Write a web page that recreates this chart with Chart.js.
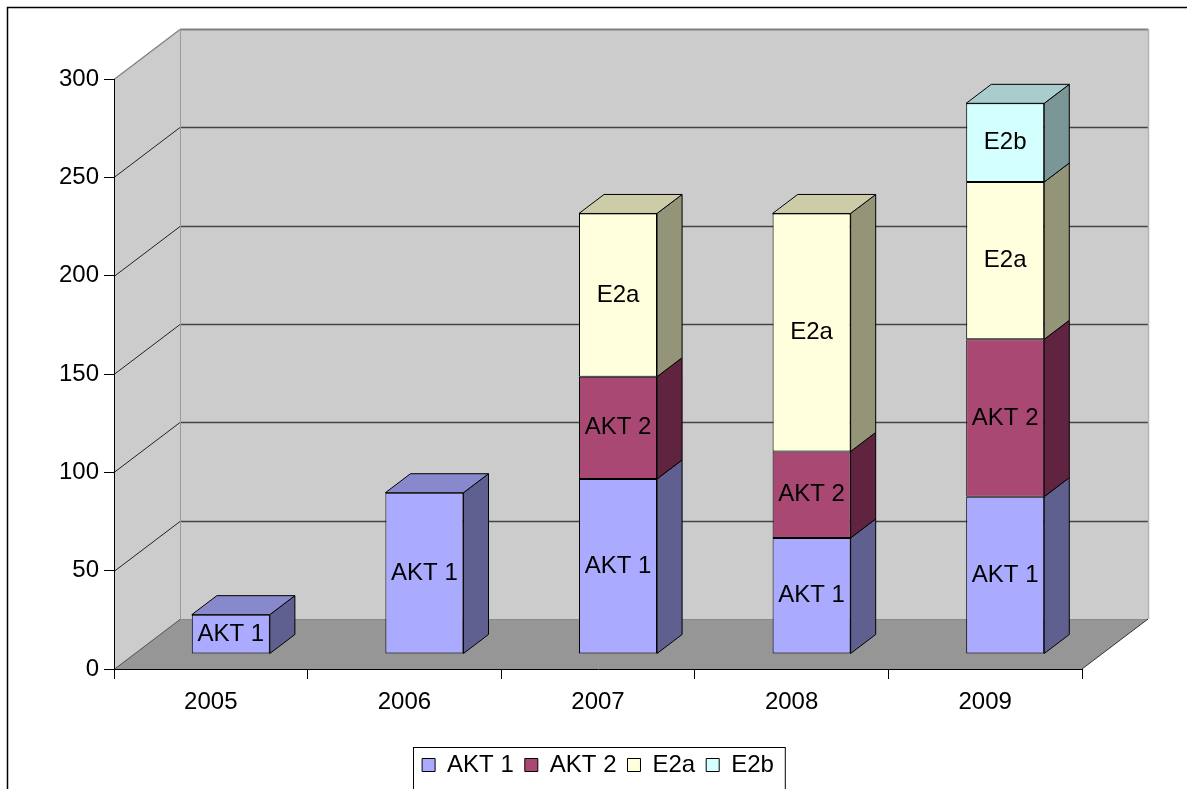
<!DOCTYPE html>
<html><head><meta charset="utf-8">
<script src="https://cdn.jsdelivr.net/npm/chart.js@4.4.1/dist/chart.umd.min.js"></script>
<style>html,body{margin:0;padding:0;background:#fff;overflow:hidden}canvas{display:block}</style>
</head><body>
<canvas id="c" width="1187" height="789"></canvas>
<script>
// ---- data ----
const categories = ['2005', '2006', '2007', '2008', '2009'];
const seriesNames = ['AKT 1', 'AKT 2', 'E2a', 'E2b'];
const akt1 = [20, 82, 89, 59, 80];
const akt2 = [null, null, 52, 44, 80];
const e2a = [null, null, 83, 121, 80];
const e2b = [null, null, null, null, 40];
const yTicks = [0, 50, 100, 150, 200, 250, 300];

// ---- styles ----
const frontColors = ['#aaaaff', '#a94873', '#ffffdd', '#d4ffff'];
const sideColors = ['#606090', '#602440', '#949478', '#7a9696'];
const topColors = ['#8888cc', '#88385a', '#cccca8', '#a9cccc'];
const GEO = {dx: 66, dy: 50, front: 0.3, depth: 0.38};
const FONT = "'Liberation Sans', Arial, sans-serif";

Chart.defaults.font.family = FONT;
Chart.defaults.font.size = 24;
Chart.defaults.color = '#000';

function poly(ctx, pts) {
  ctx.beginPath();
  ctx.moveTo(pts[0][0], pts[0][1]);
  for (let i = 1; i < pts.length; i++) ctx.lineTo(pts[i][0], pts[i][1]);
  ctx.closePath();
}
function line(ctx, x1, y1, x2, y2, color, w) {
  ctx.beginPath(); ctx.moveTo(x1, y1); ctx.lineTo(x2, y2);
  ctx.strokeStyle = color; ctx.lineWidth = w || 1; ctx.stroke();
}

const plugin3d = {
  id: 'threeD',
  beforeDraw(chart) {
    const {ctx, chartArea: a, scales: {y}} = chart;
    ctx.save();
    ctx.fillStyle = '#fff';
    ctx.fillRect(0, 0, chart.width, chart.height);
    ctx.strokeStyle = '#000'; ctx.lineWidth = 1.5;
    ctx.strokeRect(7.5, 7.5, chart.width + 100, chart.height + 100);
    const L = a.left, R = a.right, T = a.top, B = a.bottom, dx = GEO.dx, dy = GEO.dy;
    ctx.fillStyle = '#cccccc';
    poly(ctx, [[L, B], [L, T], [L + dx, T - dy], [L + dx, B - dy]]); ctx.fill();
    poly(ctx, [[L + dx, T - dy], [R + dx, T - dy], [R + dx, B - dy], [L + dx, B - dy]]); ctx.fill();
    ctx.fillStyle = '#969696';
    poly(ctx, [[L, B], [L + dx, B - dy], [R + dx, B - dy], [R, B]]); ctx.fill();
    // gridlines
    yTicks.forEach(v => {
      const py = Math.round(y.getPixelForValue(v)) + 0.5;
      if (v === yTicks[0]) {
        line(ctx, L, py, L + dx, py - dy, '#555', 1);
        line(ctx, L + dx, py - dy, R + dx, py - dy, '#8a8a8a', 1);
      } else if (v === yTicks[yTicks.length - 1]) {
        line(ctx, L, py, L + dx, py - dy, '#808080', 1.2);
        line(ctx, L + dx, py - dy, R + dx, py - dy, '#808080', 2);
      } else {
        line(ctx, L, py, L + dx, py - dy, '#222', 1);
        line(ctx, L + dx, py - dy, R + dx, py - dy, '#444', 1.3);
      }
    });
    line(ctx, L + dx + 0.5, T - dy, L + dx + 0.5, B - dy, '#9a9a9a', 1);
    line(ctx, R + dx + 0.5, T - dy, R + dx + 0.5, B - dy, '#b4b4b4', 1.5);
    line(ctx, R, B, R + dx, B - dy, '#333', 1);
    ctx.restore();
  },
  beforeDatasetsDraw(chart) {
    const ctx = chart.ctx;
    ctx.save();
    ctx.translate(Math.round(GEO.front * GEO.dx), -Math.round(GEO.front * GEO.dy));
  },
  afterDatasetsDraw(chart) {
    const ctx = chart.ctx;
    const bx = GEO.depth * GEO.dx, by = GEO.depth * GEO.dy;
    const n = chart.data.labels.length;
    const topIdx = [];
    for (let j = 0; j < n; j++) {
      let t = -1;
      chart.data.datasets.forEach((ds, i) => { if (ds.data[j] != null) t = i; });
      topIdx.push(t);
    }
    ctx.lineWidth = 1;
    ctx.strokeStyle = '#000';
    chart.data.datasets.forEach((ds, i) => {
      const meta = chart.getDatasetMeta(i);
      meta.data.forEach((el, j) => {
        if (ds.data[j] == null) return;
        const p = el.getProps(['x', 'y', 'base', 'width'], true);
        const l = p.x - p.width / 2, r = p.x + p.width / 2, t = p.y, b = p.base;
        ctx.fillStyle = sideColors[i];
        poly(ctx, [[r, t], [r + bx, t - by], [r + bx, b - by], [r, b]]);
        ctx.fill(); ctx.stroke();
        if (topIdx[j] === i) {
          ctx.fillStyle = topColors[i];
          poly(ctx, [[l, t], [l + bx, t - by], [r + bx, t - by], [r, t]]);
          ctx.fill(); ctx.stroke();
        }
      });
    });
    ctx.fillStyle = '#000';
    ctx.font = '24px ' + FONT;
    ctx.textAlign = 'center';
    ctx.textBaseline = 'middle';
    chart.data.datasets.forEach((ds, i) => {
      const meta = chart.getDatasetMeta(i);
      meta.data.forEach((el, j) => {
        if (ds.data[j] == null) return;
        const p = el.getProps(['x', 'y', 'base'], true);
        ctx.fillText(ds.label, p.x, (p.y + p.base) / 2);
      });
    });
    ctx.restore();
  },
  afterDraw(chart) {
    const lg = chart.legend;
    if (!lg || !lg.legendHitBoxes || !lg.legendHitBoxes.length) return;
    const hb = lg.legendHitBoxes;
    const left = Math.min(...hb.map(h => h.left)) - 9.5;
    const right = Math.max(...hb.map(h => h.left + h.width)) + 10.5;
    const cy = hb[0].top + hb[0].height / 2;
    const ctx = chart.ctx;
    ctx.save();
    ctx.strokeStyle = '#000'; ctx.lineWidth = 1;
    ctx.strokeRect(Math.round(left) + 0.5, Math.round(cy - 18.5) + 0.5, right - left, 80);
    ctx.restore();
  }
};

const seriesValues = [akt1, akt2, e2a, e2b];
new Chart(document.getElementById('c'), {
  type: 'bar',
  data: {
    labels: categories,
    datasets: seriesNames.map((name, i) => ({
      label: name,
      data: seriesValues[i],
      backgroundColor: frontColors[i],
      borderColor: '#000',
      borderWidth: 1,
      borderSkipped: false,
      barPercentage: 0.403,
      categoryPercentage: 1,
      clip: false
    }))
  },
  options: {
    responsive: false,
    animation: false,
    devicePixelRatio: 1,
    layout: {padding: {left: 0, right: 105, top: 79, bottom: 2}},
    plugins: {
      tooltip: {enabled: false},
      legend: {
        position: 'bottom',
        fullSize: false,
        labels: {boxWidth: 13, boxHeight: 13, padding: 11, font: {size: 24}, color: '#000'}
      }
    },
    scales: {
      x: {
        stacked: true,
        offset: true,
        grid: {offset: true, drawOnChartArea: false, drawTicks: true, tickLength: 10, color: '#000'},
        border: {display: true, color: '#000', width: 1},
        ticks: {padding: 9, font: {size: 24}, color: '#000', maxRotation: 0},
        afterFit(s) { s.height = 73; }
      },
      y: {
        stacked: true,
        min: yTicks[0],
        max: yTicks[yTicks.length - 1],
        ticks: {stepSize: yTicks[1] - yTicks[0], padding: 5, font: {size: 24}, color: '#000'},
        grid: {drawOnChartArea: false, drawTicks: true, tickLength: 10, color: '#000'},
        border: {display: true, color: '#000', width: 1},
        afterFit(s) { s.width = 114; }
      }
    }
  },
  plugins: [plugin3d]
});
</script>
</body></html>
